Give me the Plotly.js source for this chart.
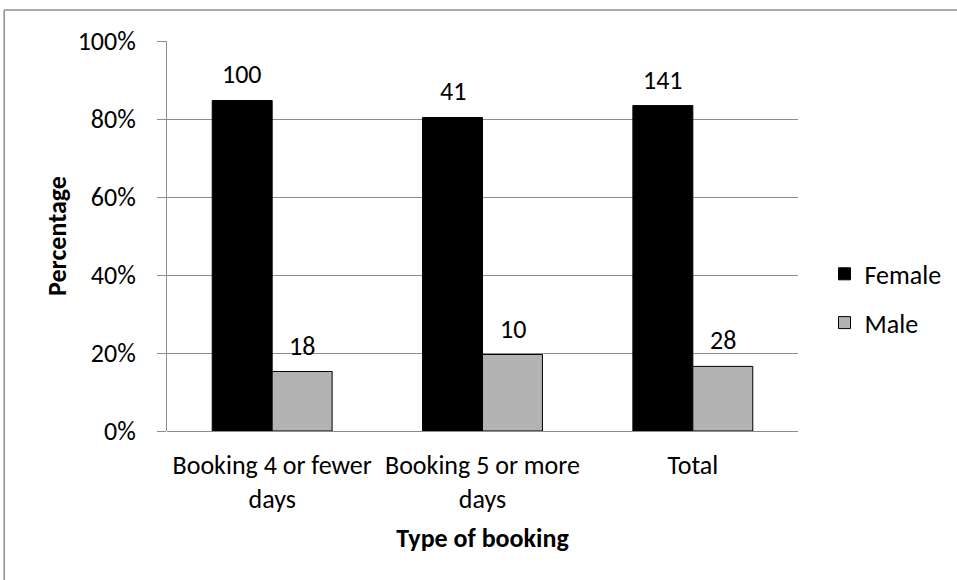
<!DOCTYPE html>
<html>
<head>
<meta charset="utf-8">
<script src="https://cdn.plot.ly/plotly-3.0.1.min.js"></script>
<style>
  html, body { margin: 0; padding: 0; background: #fff; }
  #chart { width: 957px; height: 580px; }
</style>
</head>
<body>
<div id="chart"></div>
<script>
// Booking types and head counts per gender
const categories = ["Booking 4 or fewer<br>days", "Booking 5 or more<br>days", "Total"];
const femaleCounts = [100, 41, 141];
const maleCounts = [18, 10, 28];
const yTickVals = [0, 0.2, 0.4, 0.6, 0.8, 1.0];
const yTickText = ["0%", "20%", "40%", "60%", "80%", "100%"];

// Share of each group, used for bar heights
const totals = femaleCounts.map((f, i) => f + maleCounts[i]);
const femaleShare = femaleCounts.map((f, i) => f / totals[i]);
const maleShare = maleCounts.map((m, i) => m / totals[i]);

const FONT = "Carlito, Calibri, 'Open Sans', sans-serif";
const FS = 26;

const traces = [
  {
    type: "bar", name: "Female", x: categories, y: femaleShare,
    marker: { color: "#000000", line: { color: "#000000", width: 1 } },
    legendgroup: "f", hoverinfo: "skip"
  },
  {
    type: "bar", name: "Male", x: categories, y: maleShare,
    marker: { color: "#b3b3b3", line: { color: "#000000", width: 1 } },
    legendgroup: "m", hoverinfo: "skip"
  }
];

// Count labels above each bar
const annotations = [];
categories.forEach((c, i) => {
  annotations.push({
    x: c, y: femaleShare[i], xref: "x", yref: "y", text: String(femaleCounts[i]),
    showarrow: false, yanchor: "middle", yshift: 26, xshift: -30,
    font: { family: FONT, size: FS, color: "#000" }
  });
  annotations.push({
    x: c, y: maleShare[i], xref: "x", yref: "y", text: String(maleCounts[i]),
    showarrow: false, yanchor: "middle", yshift: 26, xshift: 30,
    font: { family: FONT, size: FS, color: "#000" }
  });
});

const layout = {
  width: 957, height: 580,
  margin: { l: 167, r: 159, t: 41, b: 149, pad: 0, autoexpand: false },
  paper_bgcolor: "#ffffff", plot_bgcolor: "#ffffff",
  font: { family: FONT, size: FS, color: "#000" },
  barmode: "group",
  bargap: 0.43, bargroupgap: 0,
  showlegend: true,
  legend: {
    x: 1.042, y: 0.34, xanchor: "left", yanchor: "middle",
    font: { family: FONT, size: FS, color: "#000" },
    tracegroupgap: 12, itemwidth: 30, bgcolor: "rgba(0,0,0,0)"
  },
  xaxis: {
    type: "category", automargin: false,
    showgrid: false, zeroline: false, showline: false,
    ticks: "", tickfont: { family: FONT, size: FS, color: "#000" },
    ticklabelstandoff: 16,
    title: { text: "<b>Type of booking</b>", font: { family: FONT, size: FS, color: "#000" }, standoff: 15 }
  },
  yaxis: {
    range: [0, 1.0], tickvals: yTickVals, ticktext: yTickText, automargin: false,
    showgrid: true, gridcolor: "#8c8c8c", gridwidth: 1,
    zeroline: true, zerolinecolor: "#8c8c8c", zerolinewidth: 1,
    showline: true, linecolor: "#8c8c8c", linewidth: 1,
    ticks: "outside", ticklen: 9, tickcolor: "#8c8c8c",
    tickfont: { family: FONT, size: FS, color: "#000" },
    ticklabelstandoff: 16,
    title: { text: "<b>Percentage</b>", font: { family: FONT, size: FS, color: "#000" }, standoff: 3 }
  },
  annotations: annotations,
  shapes: [
    { type: "line", xref: "paper", yref: "paper", x0: -0.258, x1: 1.3, y0: 1.0795, y1: 1.0795,
      line: { color: "#8c8c8c", width: 1.5 } },
    { type: "line", xref: "paper", yref: "paper", x0: -0.258, x1: -0.258, y0: 1.0795, y1: -0.45,
      line: { color: "#8c8c8c", width: 1.5 } }
  ]
};

Plotly.newPlot("chart", traces, layout, { displayModeBar: false, staticPlot: true });
</script>
</body>
</html>
